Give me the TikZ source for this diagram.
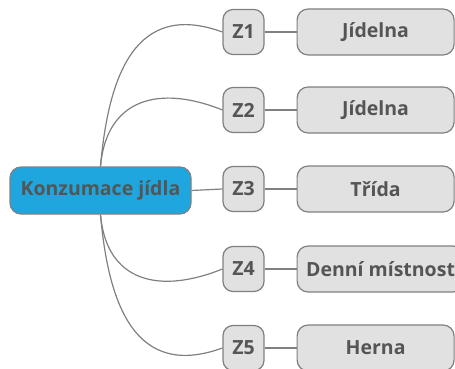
\documentclass[tikz,border=0pt]{standalone}
\usepackage{fontspec}
\setmainfont{Open Sans}
\definecolor{txtgray}{RGB}{85,85,85}
\definecolor{linegray}{RGB}{128,128,128}
\definecolor{rootblue}{RGB}{31,166,222}
\definecolor{boxgray}{RGB}{225,225,225}
\begin{document}
\begin{tikzpicture}[x=1pt, y=-1pt,
    root/.style={draw=linegray, line width=1.2pt, fill=rootblue, rounded corners=11pt,
      minimum width=181pt, minimum height=47pt, text=txtgray, font=\bfseries\fontsize{19.5}{22}\selectfont},
    zbox/.style={draw=linegray, line width=1.2pt, fill=boxgray, rounded corners=10pt,
      minimum width=41pt, minimum height=45pt, inner sep=0pt, text=txtgray, font=\bfseries\fontsize{19.5}{22}\selectfont},
    place/.style={draw=linegray, line width=1.2pt, fill=boxgray, rounded corners=11pt, anchor=west,
      minimum width=157pt, minimum height=46pt, inner xsep=9pt, inner ysep=0pt, text=txtgray, font=\bfseries\fontsize{19.5}{22}\selectfont},
    link/.style={draw=linegray, line width=1.2pt}]
    \useasboundingbox (0, 0) rectangle (455, 369) ;
    % central node
    \node[root] (root) at (100.5, 190.5) {Konzumace jídla} ;
    % zones
    \node[zbox] (z1) at (243.5, 32) {Z1} ;
    \node[zbox] (z2) at (243.5, 110) {Z2} ;
    \node[zbox] (z3) at (243.5, 189) {Z3} ;
    \node[zbox] (z4) at (243.5, 269) {Z4} ;
    \node[zbox] (z5) at (243.5, 348) {Z5} ;
    % rooms
    \node[place] (r1) at (296.5, 32) {Jídelna} ;
    \node[place] (r2) at (296.5, 110) {Jídelna} ;
    \node[place] (r3) at (296.5, 189) {Třída} ;
    \node[place] (r4) at (296.5, 269) {Denní místnost} ;
    \node[place] (r5) at (296.5, 348) {Herna} ;
    % branches
    \draw[link] (root.north) to[out=85, in=160, looseness=1.3] (z1.west) ;
    \draw[link] (root.north) to[out=85, in=158, looseness=1.3] (z2.west) ;
    \draw[link] (root.east) -- (z3.west) ;
    \draw[link] (root.south) to[out=-85, in=202, looseness=1.3] (z4.west) ;
    \draw[link] (root.south) to[out=-85, in=200, looseness=1.3] (z5.west) ;
    \draw[link] (z1) -- (r1) ;
    \draw[link] (z2) -- (r2) ;
    \draw[link] (z3) -- (r3) ;
    \draw[link] (z4) -- (r4) ;
    \draw[link] (z5) -- (r5) ;
  \end{tikzpicture}
\end{document}
